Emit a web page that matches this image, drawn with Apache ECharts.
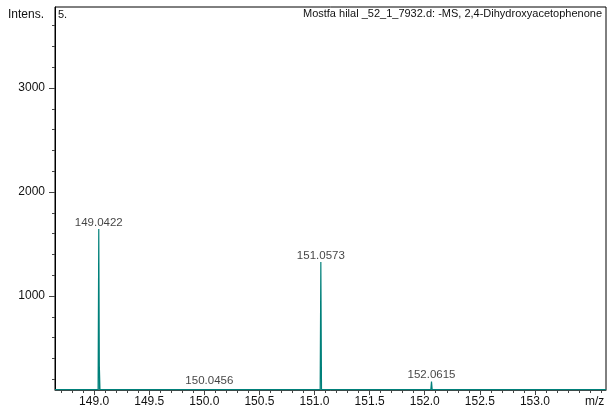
<!DOCTYPE html>
<html><head><meta charset="utf-8">
<script src="https://cdn.jsdelivr.net/npm/echarts@6/dist/echarts.min.js"></script>
<style>html,body{margin:0;padding:0;background:#fff}#c{width:611px;height:414px}</style>
</head><body><div id="c"></div>
<script>
// Data
const peakMz = [149.0422, 149.0470, 150.0456, 151.0573, 152.0615];
const peakInt = [1645, 340, 118, 1328, 178];
const peakLabels = ['149.0422', '', '150.0456', '151.0573', '152.0615'];
const baseline = 100;
const xTickLabels = [149.0, 149.5, 150.0, 150.5, 151.0, 151.5, 152.0, 152.5, 153.0];
const yTickLabels = [1000, 2000, 3000];
const titleText = 'Mostfa hilal _52_1_7932.d: -MS, 2,4-Dihydroxyacetophenone';

const xMin = 148.645, xMax = 153.645, yMin = 96, yMax = 3779;
const halfW = 0.006;
const data = [[xMin, baseline]];
const labelPts = [];
peakMz.forEach((m, i) => {
  data.push([m - halfW, baseline]);
  data.push([m, peakInt[i]]);
  data.push([m + halfW, baseline]);
  if (peakLabels[i]) labelPts.push({value: [m, peakInt[i]], name: peakLabels[i]});
});
data.push([xMax, baseline]);

const xMinor = [];
for (let v = 148.7; v < xMax; v += 0.1) xMinor.push(Math.round(v * 10) / 10);
const yMinor = [];
for (let v = 200; v < yMax; v += 200) yMinor.push(v);

const font = {fontFamily: 'Liberation Sans', fontSize: 12, color: '#111'};
const chart = echarts.init(document.getElementById('c'));
chart.setOption({
  animation: false,
  grid: [{left: 55, right: 5, top: 7, bottom: 24, show: true, borderColor: '#000', borderWidth: 1}],
  xAxis: [
    {type: 'value', min: xMin, max: xMax, gridIndex: 0,
      axisLine: {show: true, lineStyle: {color: '#444'}},
      axisTick: {show: true, length: 5, customValues: xTickLabels, lineStyle: {color: '#444'}},
      axisLabel: Object.assign({customValues: xTickLabels, margin: 6, formatter: v => v.toFixed(1)}, font),
      splitLine: {show: false}},
    {type: 'value', min: xMin, max: xMax, gridIndex: 0, position: 'bottom',
      axisLine: {show: false},
      axisTick: {show: true, length: 3, customValues: xMinor, lineStyle: {color: '#444'}},
      axisLabel: {show: false}, splitLine: {show: false}}
  ],
  yAxis: [
    {type: 'value', min: yMin, max: yMax, gridIndex: 0,
      axisLine: {show: true, lineStyle: {color: '#000'}},
      axisTick: {show: true, length: 6, customValues: yTickLabels, lineStyle: {color: '#444'}},
      axisLabel: Object.assign({customValues: yTickLabels, margin: 10, formatter: v => String(v)}, font),
      splitLine: {show: false}},
    {type: 'value', min: yMin, max: yMax, gridIndex: 0, position: 'left',
      axisLine: {show: false},
      axisTick: {show: true, length: 3, customValues: yMinor, lineStyle: {color: '#444'}},
      axisLabel: {show: false}, splitLine: {show: false}}
  ],
  series: [{
    type: 'line', xAxisIndex: 0, yAxisIndex: 0, data: data,
    symbol: 'none', showSymbol: false,
    lineStyle: {color: '#00807a', width: 1.2},
    clip: true, z: 2
  }, {
    type: 'scatter', xAxisIndex: 0, yAxisIndex: 0, data: labelPts,
    symbolSize: 1, itemStyle: {color: 'rgba(0,0,0,0)'},
    label: {show: true, position: 'top', distance: 0, formatter: p => p.name,
      fontFamily: 'Liberation Sans', fontSize: 11.5, color: '#111'},
    z: 3
  }],
  graphic: [
    {type: 'text', left: 8, top: 9, style: {text: 'Intens.', font: '12px "Liberation Sans"', fill: '#111'}},
    {type: 'text', left: 58, top: 9, style: {text: '5.', font: '11px "Liberation Sans"', fill: '#111'}},
    {type: 'text', right: 9, top: 8, style: {text: titleText, font: '11px "Liberation Sans"', fill: '#111'}},
    {type: 'text', left: 585, top: 396, style: {text: 'm/z', font: '12px "Liberation Sans"', fill: '#111'}}
  ]
});
</script></body></html>
